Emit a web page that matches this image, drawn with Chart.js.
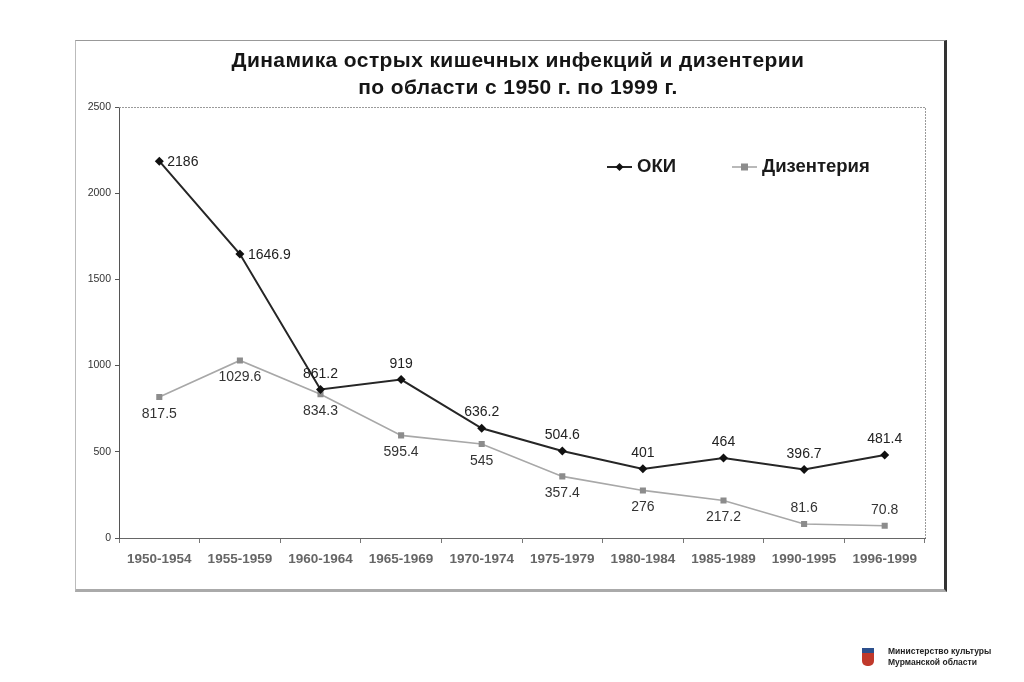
<!DOCTYPE html>
<html lang="ru">
<head>
<meta charset="utf-8">
<script src="https://cdn.jsdelivr.net/npm/chart.js@4.4.1/dist/chart.umd.min.js"></script>
<style>
  html, body { margin:0; padding:0; background:#fff; }
  #wrap { position:relative; width:1024px; height:682px; overflow:hidden; background:#fff; }
  #frame { position:absolute; left:75px; top:40px; width:868px; height:548px;
           border-top:1px solid #999; border-left:1px solid #bbb;
           border-right:3px solid #333; border-bottom:3px solid #aaa; }
  #title { position:absolute; left:0; top:46px; width:1036px; text-align:center;
           font-family:"Liberation Sans", Arial, sans-serif; font-weight:bold; font-size:21px;
           letter-spacing:0.4px; line-height:27px; color:#151515; }
  canvas { position:absolute; left:0; top:0; }
  #footer { position:absolute; left:888px; top:646px; font-family:"Liberation Sans", Arial, sans-serif;
            font-weight:bold; font-size:8.5px; line-height:11px; color:#222; }
  #logo { position:absolute; left:862px; top:648px; width:12px; height:18px; background:#c0392b;
          border-top:5px solid #2c4f8c; box-sizing:border-box; border-radius:0 0 5px 5px; }
</style>
</head>
<body>
<div id="wrap">
  <div id="frame"></div>
  <canvas id="c" width="1024" height="682"></canvas>
  <div id="title">Динамика острых кишечных инфекций и дизентерии<br>по области с 1950 г. по 1999 г.</div>
  <div id="logo"></div>
  <div id="footer">Министерство культуры<br>Мурманской области</div>
</div>
<script>
const categories = ['1950-1954','1955-1959','1960-1964','1965-1969','1970-1974','1975-1979','1980-1984','1985-1989','1990-1995','1996-1999'];
const okiValues = [2186, 1646.9, 861.2, 919, 636.2, 504.6, 401, 464, 396.7, 481.4];
const dysValues = [817.5, 1029.6, 834.3, 595.4, 545, 357.4, 276, 217.2, 81.6, 70.8];
const okiLabels = ['2186','1646.9','861.2','919','636.2','504.6','401','464','396.7','481.4'];
const dysLabels = ['817.5','1029.6','834.3','595.4','545','357.4','276','217.2','81.6','70.8'];
const okiLabelPos = ['right','right','top','top','top','top','top','top','top','top'];
const dysLabelPos = ['bottom','bottom','bottom','bottom','bottom','bottom','bottom','bottom','top','top'];
const yTicks = [0, 500, 1000, 1500, 2000, 2500];

const FONT = '"Liberation Sans", Arial, sans-serif';

const dataLabels = {
  id: 'dataLabels',
  afterDatasetsDraw(chart) {
    const ctx = chart.ctx;
    const sets = [[okiLabels, okiLabelPos, '#222'], [dysLabels, dysLabelPos, '#333']];
    ctx.save();
    ctx.font = '14px ' + FONT;
    chart.data.datasets.forEach((ds, di) => {
      const meta = chart.getDatasetMeta(di);
      const [labels, pos, col] = sets[di];
      ctx.fillStyle = col;
      meta.data.forEach((pt, i) => {
        const p = pos[i];
        if (p === 'right') { ctx.textAlign = 'left'; ctx.textBaseline = 'middle'; ctx.fillText(labels[i], pt.x + 8, pt.y + 1); }
        else if (p === 'top') { ctx.textAlign = 'center'; ctx.textBaseline = 'alphabetic'; ctx.fillText(labels[i], pt.x, pt.y - 12); }
        else { ctx.textAlign = 'center'; ctx.textBaseline = 'top'; ctx.fillText(labels[i], pt.x, pt.y + 10); }
      });
    });
    ctx.restore();
  }
};

const plotBorder = {
  id: 'plotBorder',
  beforeDatasetsDraw(chart) {
    const {ctx, chartArea: a} = chart;
    ctx.save();
    ctx.strokeStyle = '#9a9a9a';
    ctx.lineWidth = 1;
    ctx.setLineDash([2, 1]);
    ctx.beginPath();
    ctx.moveTo(a.left, a.top + 0.5); ctx.lineTo(a.right + 0.5, a.top + 0.5); ctx.lineTo(a.right + 0.5, a.bottom);
    ctx.stroke();
    ctx.restore();
  }
};

const customLegend = {
  id: 'customLegend',
  afterDraw(chart) {
    const ctx = chart.ctx;
    const items = [
      {x: 607, text: 'ОКИ', ds: 0},
      {x: 732, text: 'Дизентерия', ds: 1}
    ];
    const y = 167;
    ctx.save();
    items.forEach(it => {
      const ds = chart.data.datasets[it.ds];
      ctx.strokeStyle = ds.borderColor;
      ctx.lineWidth = ds.borderWidth;
      ctx.beginPath(); ctx.moveTo(it.x, y); ctx.lineTo(it.x + 25, y); ctx.stroke();
      const cx = it.x + 12.5;
      ctx.fillStyle = ds.pointBackgroundColor;
      if (ds.pointStyle === 'rectRot') {
        ctx.beginPath(); ctx.moveTo(cx, y - 4); ctx.lineTo(cx + 4, y); ctx.lineTo(cx, y + 4); ctx.lineTo(cx - 4, y); ctx.closePath(); ctx.fill();
      } else {
        ctx.fillRect(cx - 3.5, y - 3.5, 7, 7);
      }
      ctx.fillStyle = '#1a1a1a';
      ctx.font = 'bold 18.5px ' + FONT;
      ctx.textAlign = 'left'; ctx.textBaseline = 'middle';
      ctx.fillText(it.text, it.x + 30, y);
    });
    ctx.restore();
  }
};

new Chart(document.getElementById('c'), {
  type: 'line',
  data: {
    labels: categories,
    datasets: [
      { label: 'ОКИ', data: okiValues, borderColor: '#262626', borderWidth: 2,
        pointStyle: 'rectRot', pointRadius: 4.5, pointBackgroundColor: '#111', pointBorderColor: '#111', pointBorderWidth: 0,
        tension: 0 },
      { label: 'Дизентерия', data: dysValues, borderColor: '#a8a8a8', borderWidth: 1.6,
        pointStyle: 'rect', pointRadius: 4.3, pointBackgroundColor: '#8c8c8c', pointBorderColor: '#8c8c8c', pointBorderWidth: 0,
        tension: 0 }
    ]
  },
  options: {
    responsive: false,
    animation: false,
    devicePixelRatio: 1,
    layout: { padding: { left: 0, top: 107, right: 99, bottom: 0 } },
    plugins: { legend: { display: false }, title: { display: false }, tooltip: { enabled: false } },
    scales: {
      x: {
        offset: true,
        grid: { display: true, drawOnChartArea: false, offset: true, tickLength: 5, color: '#777', tickColor: '#777' },
        border: { display: true, color: '#666', width: 1 },
        ticks: { color: '#666', font: { family: FONT, size: 13.5, weight: 'bold' }, padding: 8, maxRotation: 0, autoSkip: false },
        afterFit(s) { s.height = 144; }
      },
      y: {
        min: 0, max: 2500,
        afterBuildTicks(s) { s.ticks = yTicks.map(v => ({ value: v })); },
        grid: { display: true, drawOnChartArea: false, tickLength: 4, color: '#555', tickColor: '#555' },
        border: { display: true, color: '#555', width: 1 },
        ticks: { color: '#333', font: { family: FONT, size: 10.5 }, padding: 4, callback: v => String(v) },
        afterFit(s) { s.width = 119; }
      }
    }
  },
  plugins: [plotBorder, dataLabels, customLegend]
});
</script>
</body>
</html>
